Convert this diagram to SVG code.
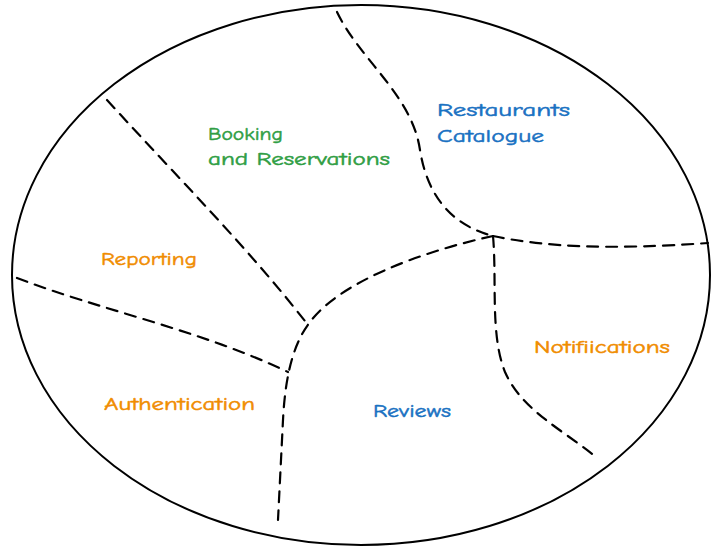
<svg xmlns="http://www.w3.org/2000/svg" width="720" height="550" viewBox="0 0 720 550">
<style>
.b{fill:none;stroke:#000;stroke-width:2}
.d{fill:none;stroke:#000;stroke-width:2.2;stroke-dasharray:11 8;stroke-linecap:round}
text{font-family:"Comic Neue","Liberation Sans",sans-serif;font-size:19px;stroke-width:0.5}
.g{fill:#2f9e44;stroke:#2f9e44}.bl{fill:#1971c2;stroke:#1971c2}.o{fill:#f08c00;stroke:#f08c00}
</style>
<rect width="720" height="550" fill="#fff"/>
<g id="boundary"><ellipse class="b" cx="361" cy="275" rx="349" ry="270"/></g>
<g id="connectors">
<path class="d" d="M337,12 C360,60 412,95 420,150 C428,200 455,226 493,236"/>
<path class="d" d="M493,236 C545,247 610,250 708,243"/>
<path class="d" d="M493,236 C497,280 490,335 505,372 C522,410 560,428 596,457"/>
<path class="d" d="M493,236 C420,252 340,282 310,322 C292,345 285,380 283,420 L278,520"/>
<path class="d" d="M107,100 C180,180 250,250 308,325"/>
<path class="d" d="M17,278 C100,310 200,330 288,372"/>
</g>
<g id="booking"><text class="g" x="208" y="140" textLength="75" lengthAdjust="spacingAndGlyphs">Booking</text><text class="g" x="208" y="165" textLength="182" lengthAdjust="spacingAndGlyphs">and Reservations</text></g>
<g id="catalogue"><text class="bl" x="437" y="116" textLength="133" lengthAdjust="spacingAndGlyphs">Restaurants</text><text class="bl" x="437" y="142" textLength="107" lengthAdjust="spacingAndGlyphs">Catalogue</text></g>
<g id="reporting"><text class="o" x="101" y="265" textLength="96" lengthAdjust="spacingAndGlyphs">Reporting</text></g>
<g id="authentication"><text class="o" x="104" y="410" textLength="151" lengthAdjust="spacingAndGlyphs">Authentication</text></g>
<g id="reviews"><text class="bl" x="373" y="417" textLength="78" lengthAdjust="spacingAndGlyphs">Reviews</text></g>
<g id="notifications"><text class="o" x="534" y="353" textLength="136" lengthAdjust="spacingAndGlyphs">Notifiications</text></g>
</svg>
